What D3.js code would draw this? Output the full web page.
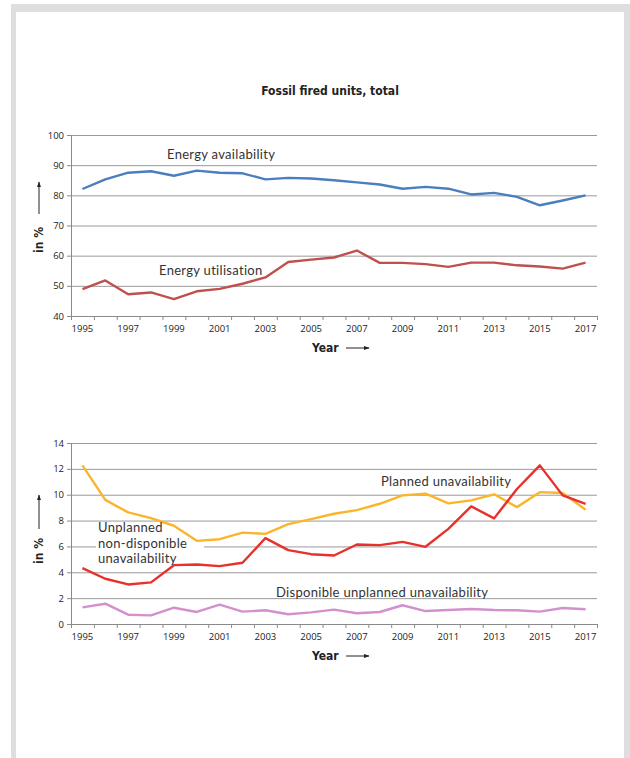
<!DOCTYPE html>
<html><head><meta charset="utf-8">
<script src="https://cdn.jsdelivr.net/npm/d3@7"></script>
<style>
html,body{margin:0;padding:0;background:#fff;}
svg{display:block;}
</style></head><body>
<svg id="c" width="630" height="758"></svg>
<script>
const years = [1995,1996,1997,1998,1999,2000,2001,2002,2003,2004,2005,2006,2007,2008,2009,2010,2011,2012,2013,2014,2015,2016,2017];
const yearLabels = [1995,1997,1999,2001,2003,2005,2007,2009,2011,2013,2015,2017];
const energyAvailability = [82.1,85.3,87.5,88.0,86.5,88.2,87.5,87.3,85.3,85.8,85.6,85.0,84.3,83.6,82.2,82.8,82.2,80.3,80.8,79.5,76.7,78.3,80.0];
const energyUtilisation = [48.9,51.8,47.2,47.8,45.6,48.2,49.0,50.7,52.8,57.9,58.7,59.4,61.7,57.6,57.6,57.2,56.3,57.7,57.7,56.8,56.4,55.7,57.7];
const plannedUnavail = [12.27,9.6,8.63,8.19,7.6,6.43,6.56,7.07,6.97,7.72,8.11,8.53,8.81,9.3,9.95,10.08,9.33,9.56,10.03,9.04,10.2,10.13,8.84];
const unplannedNonDisp = [4.32,3.5,3.06,3.22,4.55,4.6,4.48,4.74,6.64,5.71,5.4,5.3,6.15,6.1,6.35,5.97,7.36,9.1,8.17,10.44,12.27,9.95,9.3];
const disponibleUnplanned = [1.29,1.57,0.72,0.67,1.26,0.93,1.5,0.96,1.06,0.75,0.9,1.11,0.83,0.93,1.45,1.0,1.08,1.16,1.08,1.06,0.96,1.24,1.14];
const topTicks = [40,50,60,70,80,90,100];
const bottomTicks = [0,2,4,6,8,10,12,14];

const svg = d3.select('#c');
const FONT = "'Open Sans', 'DejaVu Sans', sans-serif";
const LFONT = "Lato, 'Open Sans', sans-serif";
const BOLD = "'DejaVu Sans Condensed','DejaVu Sans',sans-serif";

// frame
svg.append('rect').attr('x',11).attr('y',4).attr('width',619).attr('height',760).attr('fill','#dedede');
svg.append('rect').attr('x',16).attr('y',12).attr('width',608).attr('height',760).attr('fill','#fff');

// title
svg.append('text').attr('x',330).attr('y',95).attr('text-anchor','middle')
  .attr('font-family',BOLD).attr('font-weight','bold')
  .attr('font-size',12).attr('fill','#222').text('Fossil fired units, total');

const defs = svg.append('defs');
defs.append('marker').attr('id','arr').attr('viewBox','0 0 10 10').attr('refX',9).attr('refY',5)
  .attr('markerWidth',6).attr('markerHeight',6).attr('orient','auto')
  .append('path').attr('d','M0,1.5 L10,5 L0,8.5 Z').attr('fill','#222');

const X0 = 71, X1 = 597;
const xBand = d3.scaleBand().domain(years).range([X0, X1]).padding(0);
const xBound = d3.scaleLinear().domain([0, years.length]).range([X0, X1]);
const xc = d => xBand(d) + xBand.bandwidth()/2;

function panel(cfg){
  const g = svg.append('g');
  const y = d3.scaleLinear().domain(cfg.domain).range([cfg.bottom, cfg.top]);
  // grid
  const grid = g.append('g').attr('transform',`translate(${X0},0)`)
    .call(d3.axisLeft(y).tickValues(cfg.ticks).tickSize(-(X1-X0)).tickFormat(''));
  grid.select('.domain').remove();
  grid.selectAll('line').attr('stroke','#9a9a9a').attr('stroke-width',1);
  // y axis
  const ya = g.append('g').attr('transform',`translate(${X0},0)`)
    .call(d3.axisLeft(y).tickValues(cfg.ticks).tickSize(4).tickPadding(3));
  ya.select('.domain').attr('stroke','#8a8a8a');
  ya.selectAll('line').attr('stroke','#8a8a8a');
  ya.selectAll('text').attr('font-family',FONT).attr('font-size',9.5).attr('fill','#222');
  // x axis tick marks
  const xa = g.append('g').attr('transform',`translate(0,${cfg.bottom})`)
    .call(d3.axisBottom(xBound).tickValues(d3.range(0, years.length+1)).tickSize(4).tickFormat(''));
  xa.select('.domain').attr('stroke','#8a8a8a');
  xa.selectAll('line').attr('stroke','#8a8a8a');
  const xl = g.append('g').attr('transform',`translate(0,${cfg.bottom})`)
    .call(d3.axisBottom(xBand).tickValues(yearLabels).tickSize(0).tickPadding(9));
  xl.select('.domain').remove();
  xl.selectAll('text').attr('font-family',FONT).attr('font-size',9.5).attr('fill','#222');
  // x label
  g.append('text').attr('x',312).attr('y',cfg.bottom+36).attr('text-anchor','start')
    .attr('font-family',BOLD).attr('font-weight','bold').attr('font-size',12).attr('fill','#222').text('Year');
  g.append('line').attr('x1',346).attr('x2',369).attr('y1',cfg.bottom+32).attr('y2',cfg.bottom+32)
    .attr('stroke','#222').attr('stroke-width',1).attr('marker-end','url(#arr)');
  // y label
  g.append('text').attr('transform',`translate(43,${cfg.ylabY}) rotate(-90)`).attr('text-anchor','middle')
    .attr('font-family',BOLD).attr('font-weight','bold').attr('font-size',12).attr('fill','#222').text('in %');
  g.append('line').attr('x1',39).attr('x2',39).attr('y1',cfg.arrow[0]).attr('y2',cfg.arrow[1])
    .attr('stroke','#222').attr('stroke-width',1).attr('marker-end','url(#arr)');
  // label backgrounds
  (cfg.boxes||[]).forEach(b=>{
    g.append('rect').attr('x',b[0]).attr('y',b[1]).attr('width',b[2]).attr('height',b[3]).attr('fill','#fff');
  });
  // series
  cfg.series.forEach(s=>{
    const line = d3.line().x((d,i)=>xc(years[i])).y(d=>y(d));
    g.append('path').datum(s.values).attr('d',line).attr('fill','none')
      .attr('stroke',s.color).attr('stroke-width',2.4).attr('stroke-linejoin','round');
  });
  // labels
  cfg.labels.forEach(l=>{
    l.lines.forEach((s,i)=>{
      g.append('text').attr('x',l.x).attr('y',l.y + i*15.5).attr('font-family',LFONT)
        .attr('font-size',13).attr('letter-spacing',0.3).attr('fill','#333').text(s);
    });
  });
  return y;
}

panel({
  domain:[40,100], top:135, bottom:316, ticks:topTicks,
  ylabY:240, arrow:[214,182],
  series:[
    {values:energyAvailability, color:'#4a7ebf'},
    {values:energyUtilisation, color:'#c0504d'}
  ],
  labels:[
    {x:167, y:159, lines:['Energy availability']},
    {x:159, y:275, lines:['Energy utilisation']}
  ]
});

panel({
  domain:[0,14], top:443, bottom:624, ticks:bottomTicks,
  ylabY:551, arrow:[529,495],
  boxes:[[96,523,108,44]],
  series:[
    {values:plannedUnavail, color:'#fbb52b'},
    {values:unplannedNonDisp, color:'#e8302c'},
    {values:disponibleUnplanned, color:'#d291cc'}
  ],
  labels:[
    {x:381, y:486, lines:['Planned unavailability']},
    {x:98, y:532, lines:['Unplanned','non-disponible','unavailability']},
    {x:276, y:597, lines:['Disponible unplanned unavailability']}
  ]
});
</script>
</body></html>
